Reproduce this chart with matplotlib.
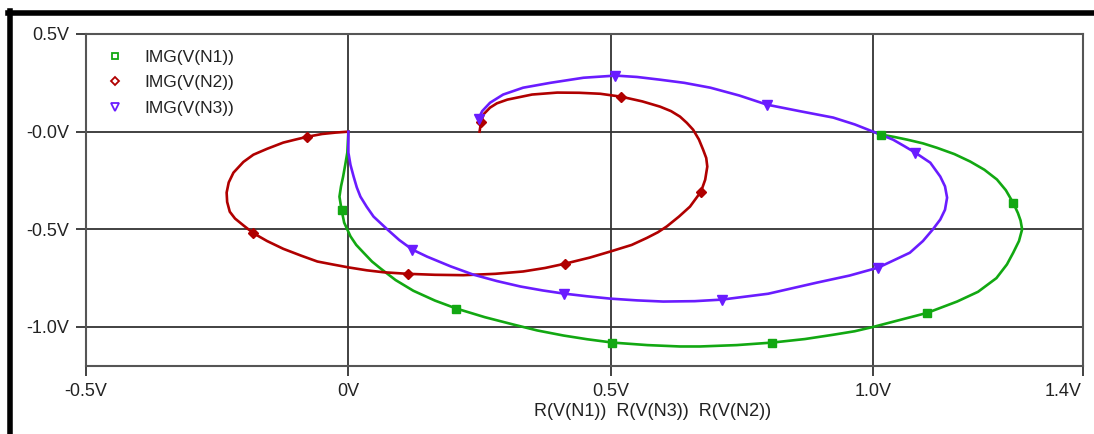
import matplotlib
matplotlib.use("Agg")
import matplotlib.pyplot as plt
import matplotlib.transforms as mtransforms
from matplotlib.lines import Line2D

n1_re = [0.0, -0.002, -0.006, -0.01, -0.014, -0.017, -0.013, -0.008, 0.004, 0.015,
         0.029, 0.045, 0.061, 0.09, 0.124, 0.165, 0.206, 0.26, 0.315, 0.36,
         0.41, 0.455, 0.503, 0.57, 0.632, 0.67, 0.74, 0.808, 0.87, 0.924,
         0.965, 1.0, 1.05, 1.103, 1.16, 1.20, 1.235, 1.255, 1.267, 1.278,
         1.284, 1.281, 1.276, 1.267, 1.253, 1.236, 1.212, 1.185, 1.155, 1.122,
         1.095, 1.065, 1.04, 1.015, 1.0]
n1_im = [0.0, -0.107, -0.17, -0.23, -0.28, -0.333, -0.40, -0.466, -0.536, -0.58,
         -0.62, -0.665, -0.70, -0.76, -0.815, -0.865, -0.906, -0.95, -0.988, -1.018,
         -1.044, -1.063, -1.08, -1.093, -1.10, -1.10, -1.093, -1.08, -1.062, -1.04,
         -1.022, -1.0, -0.965, -0.928, -0.87, -0.82, -0.75, -0.68, -0.62, -0.56,
         -0.50, -0.455, -0.417, -0.365, -0.30, -0.245, -0.195, -0.153, -0.115, -0.083,
         -0.06, -0.041, -0.027, -0.015, 0.0]
n1_mk_re = [-0.013, 0.206, 0.503, 0.808, 1.103, 1.267, 1.015]
n1_mk_im = [-0.40, -0.906, -1.08, -1.08, -0.928, -0.365, -0.015]

n2_re = [0.0, -0.025, -0.05, -0.078, -0.10, -0.124, -0.155, -0.181, -0.20, -0.219,
         -0.228, -0.232, -0.231, -0.226, -0.216, -0.200, -0.181, -0.155, -0.124, -0.09,
         -0.059, -0.03, 0.0, 0.035, 0.067, 0.113, 0.165, 0.219, 0.28, 0.333,
         0.375, 0.413, 0.46, 0.499, 0.54, 0.569, 0.59, 0.607, 0.63, 0.651,
         0.672, 0.680, 0.684, 0.682, 0.676, 0.668, 0.657, 0.645, 0.632, 0.615,
         0.594, 0.56, 0.520, 0.48, 0.44, 0.398, 0.35, 0.303, 0.283, 0.270,
         0.258, 0.253, 0.25]
n2_im = [0.0, -0.005, -0.012, -0.026, -0.04, -0.056, -0.088, -0.118, -0.155, -0.21,
         -0.26, -0.312, -0.36, -0.41, -0.445, -0.48, -0.52, -0.56, -0.60, -0.635,
         -0.665, -0.68, -0.695, -0.71, -0.72, -0.728, -0.733, -0.735, -0.728, -0.716,
         -0.698, -0.676, -0.645, -0.614, -0.58, -0.544, -0.515, -0.485, -0.435, -0.384,
         -0.307, -0.246, -0.179, -0.135, -0.092, -0.04, 0.01, 0.045, 0.077, 0.105,
         0.128, 0.155, 0.179, 0.194, 0.199, 0.20, 0.19, 0.164, 0.145, 0.123,
         0.09, 0.051, 0.0]
n2_mk_re = [-0.078, -0.181, 0.113, 0.413, 0.672, 0.520, 0.253]
n2_mk_im = [-0.026, -0.52, -0.728, -0.676, -0.307, 0.179, 0.051]

n3_re = [0.0, 0.0, 0.0, 0.004, 0.01, 0.016, 0.023, 0.035, 0.048, 0.074,
         0.097, 0.122, 0.15, 0.195, 0.238, 0.283, 0.328, 0.37, 0.41, 0.455,
         0.499, 0.55, 0.60, 0.66, 0.712, 0.80, 0.893, 0.955, 1.01, 1.07,
         1.095, 1.114, 1.128, 1.137, 1.141, 1.137, 1.128, 1.109, 1.08, 1.06,
         1.038, 1.0, 0.965, 0.924, 0.86, 0.798, 0.745, 0.69, 0.64, 0.594,
         0.55, 0.509, 0.448, 0.385, 0.333, 0.295, 0.27, 0.255, 0.248]
n3_im = [0.0, -0.05, -0.107, -0.17, -0.23, -0.285, -0.333, -0.385, -0.435, -0.50,
         -0.555, -0.604, -0.64, -0.69, -0.732, -0.765, -0.793, -0.813, -0.829, -0.843,
         -0.855, -0.864, -0.87, -0.868, -0.86, -0.83, -0.773, -0.737, -0.696, -0.62,
         -0.56, -0.50, -0.45, -0.40, -0.338, -0.28, -0.23, -0.159, -0.107, -0.075,
         -0.041, 0.0, 0.037, 0.072, 0.105, 0.138, 0.185, 0.225, 0.25, 0.266,
         0.28, 0.287, 0.276, 0.25, 0.225, 0.19, 0.148, 0.105, 0.066]
n3_mk_re = [0.122, 0.41, 0.712, 1.01, 1.08, 0.798, 0.509, 0.248]
n3_mk_im = [-0.604, -0.829, -0.86, -0.696, -0.107, 0.138, 0.287, 0.066]

x_ticks = [-0.5, 0.0, 0.5, 1.0, 1.4]
x_tick_labels = ["-0.5V", "0V", "0.5V", "1.0V", "1.4V"]
y_ticks = [0.5, 0.0, -0.5, -1.0]
y_tick_labels = ["0.5V", "-0.0V", "-0.5V", "-1.0V"]
series_names = ["IMG(V(N1))", "IMG(V(N2))", "IMG(V(N3))"]

GREEN = "#12a812"
RED = "#b00000"
PURPLE = "#6a1cff"

plt.rcParams["font.family"] = ["Liberation Sans", "DejaVu Sans"]

fig = plt.figure(figsize=(10.94, 4.34), dpi=100)
ax = fig.add_axes([86 / 1094, 68 / 434, (1083 - 86) / 1094, (366 - 34) / 434])

# grid lines only at a few positions, like the original
for gx in [0.0, 0.5, 1.0]:
    ax.axvline(gx, color="#333333", linewidth=1.3, zorder=1)
for gy in [0.0, -0.5, -1.0]:
    ax.axhline(gy, color="#333333", linewidth=1.3, zorder=1)

ax.plot(n1_re, n1_im, color=GREEN, linewidth=1.9, zorder=3)
ax.plot(n1_mk_re, n1_mk_im, "s", color=GREEN, markersize=5.5, zorder=4)
ax.plot(n2_re, n2_im, color=RED, linewidth=1.9, zorder=3)
ax.plot(n2_mk_re, n2_mk_im, "D", color=RED, markersize=5, zorder=4)
ax.plot(n3_re, n3_im, color=PURPLE, linewidth=1.9, zorder=3)
ax.plot(n3_mk_re, n3_mk_im, "v", color=PURPLE, markersize=6.5, zorder=4)

ax.set_xlim(-0.5, 1.4)
ax.set_ylim(-1.2, 0.5)
ax.set_xticks(x_ticks)
ax.set_xticklabels(x_tick_labels)
ax.set_yticks(y_ticks)
ax.set_yticklabels(y_tick_labels)
ax.tick_params(direction="out", length=7, width=1.3, color="#333333",
               labelsize=13, labelcolor="#222222", pad=5)
for side, sp in ax.spines.items():
    sp.set_color("#555555")
    sp.set_linewidth(1.5)

# last x label sits left of its tick, not centred on it
last = ax.get_xticklabels()[-1]
last.set_transform(last.get_transform() +
                   mtransforms.ScaledTranslation(-0.2, 0, fig.dpi_scale_trans))

handles = [
    Line2D([], [], linestyle="none", marker="s", markersize=5,
           markerfacecolor="white", markeredgecolor=GREEN, markeredgewidth=1.3),
    Line2D([], [], linestyle="none", marker="D", markersize=4.5,
           markerfacecolor="white", markeredgecolor=RED, markeredgewidth=1.3),
    Line2D([], [], linestyle="none", marker="v", markersize=6,
           markerfacecolor="white", markeredgecolor=PURPLE, markeredgewidth=1.3),
]
ax.legend(handles, series_names, loc="upper left", frameon=False, fontsize=12.5,
          bbox_to_anchor=(0.006, 1.0), handletextpad=1.3, labelspacing=0.6,
          handlelength=0.8, labelcolor="#222222")

fig.text(653 / 1094, 1 - 412 / 434, "R(V(N1))  R(V(N3))  R(V(N2))",
         ha="center", va="center", fontsize=13, color="#222222")

# thick outer frame (top and left edges)
fig.add_artist(Line2D([8 / 1094, 1.0], [1 - 13 / 434, 1 - 13 / 434],
                      transform=fig.transFigure, color="black", linewidth=4))
fig.add_artist(Line2D([10 / 1094, 10 / 1094], [0.0, 1 - 11 / 434],
                      transform=fig.transFigure, color="black", linewidth=4))

fig.savefig("out.png", dpi=100)
